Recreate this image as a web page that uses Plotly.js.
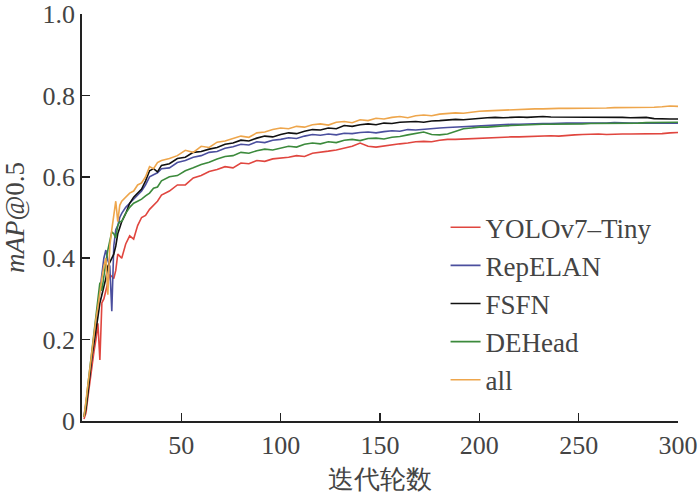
<!DOCTYPE html>
<html>
<head>
<meta charset="utf-8">
<script src="https://cdn.plot.ly/plotly-3.0.1.min.js"></script>
<style>html,body{margin:0;padding:0;background:#fff;}#chart{width:700px;height:494px;}</style>
</head>
<body>
<div id="chart"></div>
<script>
// Epochs (x values)
const epochs = [
  1,2,3,4,5,6,7,8,9,10,11,12,13,14,15,16,17,18,19,20,
  22,24,26,28,30,32,34,36,38,40,
  44,48,52,56,60,64,68,72,76,80,
  84,88,92,96,100,104,108,112,116,120,
  124,128,132,136,140,144,148,152,156,160,
  164,168,172,176,180,184,188,192,196,200,
  204,208,212,216,220,224,228,232,236,240,
  244,248,252,256,260,264,268,272,276,280,
  284,288,292,296,300
];

const seriesNames = ["YOLOv7\u2013Tiny", "RepELAN", "FSFN", "DEHead", "all"];

const yoloTiny = [
  0.005,0.02,0.06,0.10,0.13,0.17,0.20,0.24,0.15,0.29,0.30,0.32,0.34,0.36,0.355,0.35,0.37,0.41,0.405,0.40,
  0.435,0.455,0.447,0.48,0.50,0.505,0.52,0.53,0.54,0.555,
  0.565,0.58,0.58,0.597,0.603,0.613,0.618,0.625,0.622,0.634,
  0.632,0.64,0.638,0.644,0.646,0.648,0.652,0.65,0.658,0.66,
  0.663,0.666,0.671,0.675,0.683,0.675,0.673,0.676,0.678,0.681,
  0.683,0.686,0.687,0.686,0.69,0.692,0.692,0.693,0.694,0.695,
  0.695,0.696,0.697,0.698,0.698,0.699,0.70,0.70,0.701,0.70,
  0.702,0.703,0.704,0.705,0.705,0.704,0.705,0.705,0.705,0.705,
  0.705,0.705,0.706,0.708,0.709
];

const repELAN = [
  0.01,0.04,0.08,0.12,0.16,0.20,0.24,0.27,0.31,0.36,0.40,0.42,0.395,0.38,0.27,0.43,0.47,0.48,0.50,0.51,
  0.525,0.535,0.545,0.555,0.565,0.58,0.60,0.605,0.61,0.62,
  0.622,0.635,0.64,0.648,0.652,0.66,0.662,0.67,0.674,0.68,
  0.678,0.686,0.684,0.69,0.692,0.696,0.694,0.70,0.704,0.702,
  0.705,0.703,0.707,0.706,0.709,0.71,0.708,0.711,0.713,0.712,
  0.716,0.715,0.717,0.719,0.72,0.721,0.722,0.723,0.724,0.726,
  0.726,0.727,0.728,0.729,0.729,0.73,0.73,0.731,0.731,0.732,
  0.732,0.732,0.732,0.731,0.732,0.732,0.733,0.732,0.732,0.732,
  0.732,0.732,0.733,0.732,0.732
];

const fsfn = [
  0.01,0.03,0.07,0.12,0.16,0.19,0.23,0.255,0.29,0.31,0.33,0.35,0.38,0.39,0.40,0.41,0.43,0.46,0.475,0.49,
  0.51,0.535,0.55,0.56,0.57,0.59,0.615,0.62,0.612,0.628,
  0.632,0.645,0.648,0.66,0.662,0.668,0.672,0.68,0.683,0.69,
  0.688,0.695,0.70,0.698,0.704,0.708,0.706,0.712,0.716,0.715,
  0.72,0.718,0.726,0.724,0.728,0.73,0.728,0.732,0.731,0.734,
  0.735,0.736,0.734,0.737,0.738,0.739,0.741,0.74,0.742,0.743,
  0.745,0.746,0.745,0.746,0.747,0.746,0.747,0.748,0.747,0.747,
  0.746,0.747,0.746,0.746,0.747,0.746,0.746,0.746,0.745,0.746,
  0.746,0.743,0.742,0.742,0.742
];

const deHead = [
  0.01,0.04,0.09,0.13,0.17,0.21,0.25,0.29,0.34,0.32,0.36,0.39,0.42,0.44,0.465,0.46,0.45,0.48,0.49,0.49,
  0.51,0.525,0.535,0.54,0.545,0.553,0.56,0.572,0.575,0.59,
  0.60,0.603,0.615,0.622,0.63,0.636,0.644,0.65,0.652,0.66,
  0.658,0.664,0.668,0.666,0.671,0.675,0.673,0.68,0.683,0.681,
  0.686,0.684,0.69,0.692,0.689,0.694,0.695,0.693,0.697,0.699,
  0.703,0.706,0.71,0.704,0.703,0.705,0.712,0.718,0.72,0.722,
  0.722,0.724,0.725,0.726,0.727,0.728,0.728,0.729,0.729,0.729,
  0.729,0.73,0.73,0.731,0.731,0.732,0.731,0.732,0.732,0.732,
  0.733,0.733,0.734,0.734,0.734
];

const allModules = [
  0.01,0.05,0.09,0.14,0.17,0.21,0.25,0.28,0.32,0.35,0.38,0.40,0.31,0.43,0.47,0.51,0.54,0.49,0.53,0.54,
  0.55,0.56,0.565,0.58,0.585,0.60,0.625,0.62,0.635,0.64,
  0.645,0.652,0.665,0.66,0.675,0.672,0.685,0.688,0.694,0.70,
  0.697,0.708,0.71,0.716,0.72,0.718,0.724,0.722,0.728,0.73,
  0.727,0.734,0.736,0.733,0.74,0.738,0.744,0.742,0.746,0.748,
  0.745,0.75,0.752,0.75,0.754,0.755,0.757,0.756,0.759,0.761,
  0.762,0.763,0.763,0.765,0.766,0.766,0.767,0.767,0.768,0.768,
  0.768,0.768,0.769,0.769,0.769,0.769,0.77,0.77,0.77,0.77,
  0.77,0.771,0.772,0.774,0.773
];

const xTickVals = [50,100,150,200,250,300];
const yTickVals = [0,0.2,0.4,0.6,0.8,1.0];
const yTickText = ["0","0.2","0.4","0.6","0.8","1.0"];

const colors = ["#e0463f","#4b4f9e","#111111","#3c8a3c","#eea64c"];
const seriesData = [yoloTiny, repELAN, fsfn, deHead, allModules];

const traces = seriesData.map((vals, i) => ({
  type: "scatter",
  mode: "lines",
  x: epochs,
  y: vals,
  name: seriesNames[i],
  line: {color: colors[i], width: 1.6}
}));

const layout = {
  width: 700,
  height: 494,
  margin: {l: 82, r: 22, t: 14, b: 73, pad: 0},
  font: {family: "serif", size: 26},
  showlegend: true,
  legend: {
    x: 0.61, y: 0.535, xanchor: "left", yanchor: "top",
    bgcolor: "rgba(0,0,0,0)",
    font: {family: "serif", size: 27},
    tracegroupgap: 0
  },
  xaxis: {
    range: [0, 300],
    tickvals: xTickVals,
    ticks: "inside",
    ticklen: 8,
    tickwidth: 1.5,
    tickcolor: "#222",
    showline: true,
    linecolor: "#222",
    linewidth: 1.8,
    showgrid: false,
    zeroline: false,
    tickfont: {family: "serif", size: 26},
    title: {text: "迭代轮数", font: {family: "serif", size: 26}, standoff: 13}
  },
  yaxis: {
    range: [0, 1.0],
    tickvals: yTickVals,
    ticktext: yTickText,
    ticks: "inside",
    ticklen: 8,
    tickwidth: 1.5,
    tickcolor: "#222",
    showline: true,
    linecolor: "#222",
    linewidth: 1.8,
    showgrid: false,
    zeroline: false,
    ticklabeloverflow: "allow",
    tickfont: {family: "serif", size: 26},
    title: {text: "<i>mAP</i>@0.5", font: {family: "serif", size: 27}, standoff: 10}
  }
};

Plotly.newPlot("chart", traces, layout, {displayModeBar: false, staticPlot: true});
</script>
</body>
</html>
